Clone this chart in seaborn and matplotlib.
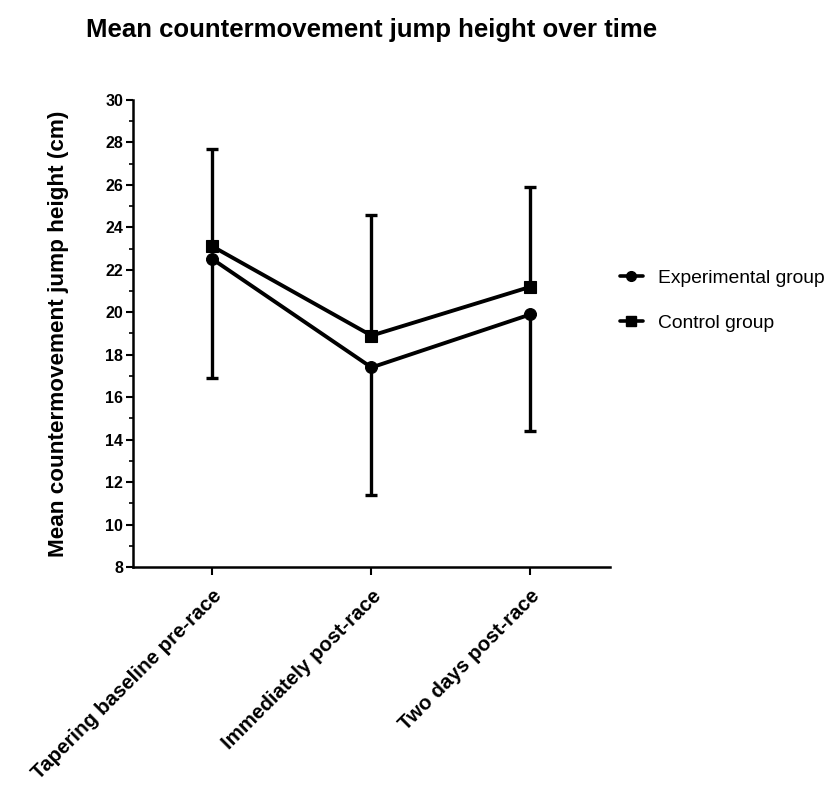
import numpy as np
import pandas as pd
import matplotlib
matplotlib.use("Agg")
import matplotlib.pyplot as plt
from matplotlib.lines import Line2D
from matplotlib.ticker import MultipleLocator
import seaborn as sns

# Time points and group summaries (mean with one-sided SD)
timepoints = ["Tapering baseline pre-race", "Immediately post-race", "Two days post-race"]
experimental_mean = [22.5, 17.4, 19.9]
experimental_lower = [16.9, 11.4, 14.4]
control_mean = [23.1, 18.9, 21.2]
control_upper = [27.7, 24.6, 25.9]
groups = ["Experimental group", "Control group"]

sns.set_theme(style="ticks")
plt.rcParams["font.family"] = ["Liberation Sans", "DejaVu Sans"]
plt.rcParams["text.color"] = "black"
plt.rcParams["axes.labelcolor"] = "black"
plt.rcParams["xtick.color"] = "black"
plt.rcParams["ytick.color"] = "black"

df = pd.DataFrame({
    "x": list(range(len(timepoints))) * 2,
    "height": experimental_mean + control_mean,
    "group": [groups[0]] * 3 + [groups[1]] * 3,
})

fig = plt.figure(figsize=(8.26, 7.87), dpi=100)
ax = fig.add_axes([0.161, 0.2795, 0.5775, 0.5935])

sns.lineplot(data=df, x="x", y="height", hue="group", style="group",
             markers={groups[0]: "o", groups[1]: "s"}, dashes=False,
             palette={groups[0]: "black", groups[1]: "black"},
             markersize=8.5, markeredgecolor="black", markeredgewidth=0.8,
             linewidth=2.8, ax=ax, legend=False, zorder=3)

xs = np.arange(len(timepoints))
exp_err = np.array(experimental_mean) - np.array(experimental_lower)
ctl_err = np.array(control_upper) - np.array(control_mean)
ax.errorbar(xs, experimental_mean, yerr=[exp_err, np.zeros(3)], fmt="none",
            ecolor="black", elinewidth=2.4, capsize=4, capthick=2.4, zorder=2)
ax.errorbar(xs, control_mean, yerr=[np.zeros(3), ctl_err], fmt="none",
            ecolor="black", elinewidth=2.4, capsize=4, capthick=2.4, zorder=2)

ax.set_xlim(-0.5, 2.5)
ax.set_ylim(8, 30)
ax.yaxis.set_major_locator(MultipleLocator(2))
ax.yaxis.set_minor_locator(MultipleLocator(1))
ax.set_xticks(xs)
ax.set_xticklabels(timepoints, rotation=45, ha="right", rotation_mode="anchor",
                   fontsize=14.8, fontweight="bold")
for lab in ax.get_yticklabels():
    lab.set_fontweight("bold")
ax.tick_params(axis="y", which="major", labelsize=11.5, length=5, width=1.5, pad=2)
ax.tick_params(axis="y", which="minor", length=3, width=1.2)
ax.tick_params(axis="x", which="major", length=6, width=1.5, pad=8)

ax.set_xlabel("")
ax.set_ylabel("Mean countermovement jump height (cm)", fontsize=16.2,
              fontweight="bold", labelpad=26)
sns.despine(ax=ax)
for s in ["left", "bottom"]:
    ax.spines[s].set_linewidth(1.8)
    ax.spines[s].set_color("black")

fig.text(0.45, 0.962, "Mean countermovement jump height over time",
         ha="center", va="center", fontsize=18.5, fontweight="bold")

handles = [
    Line2D([], [], color="black", marker="o", markersize=7, linewidth=2.6),
    Line2D([], [], color="black", marker="s", markersize=7, linewidth=2.6),
]
fig.legend(handles, groups, loc="center left", bbox_to_anchor=(0.729, 0.618),
           frameon=False, fontsize=13.9, handlelength=1.2, handletextpad=0.8,
           labelspacing=1.4)

fig.savefig("out.png", dpi=100)
